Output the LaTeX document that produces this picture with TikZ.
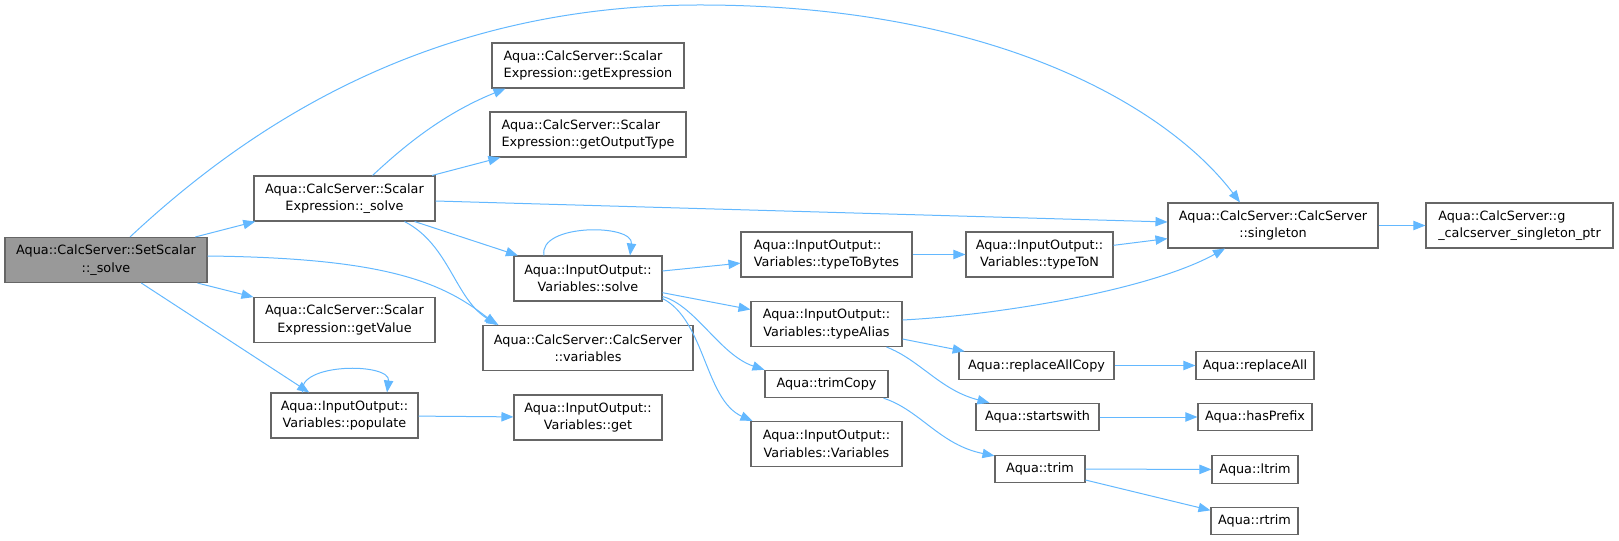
\documentclass[tikz,border=0pt]{standalone}
\usepackage{fontspec}
\setmainfont{DejaVu Sans}
\usetikzlibrary{arrows.meta,calc}
\definecolor{edgeblue}{HTML}{63B8FF}
\definecolor{nodegray}{HTML}{999999}
\definecolor{framegray}{HTML}{666666}

\begin{document}
\begin{tikzpicture}[x=0.75pt,y=-0.75pt,
		fn/.style={draw=framegray,line width=0.8pt,fill=white,inner sep=0pt,align=center,
			font=\fontsize{9.6}{13}\selectfont,minimum height=33.75pt},
		fnl/.style={fn,align=left},
		fn1/.style={fn,minimum height=20.5pt},
		call/.style={draw=edgeblue,line width=0.75pt,-{Triangle[length=9pt,width=7pt]}}]
		\useasboundingbox (0,0) rectangle (1619,541);
		\node[fn,fill=nodegray,minimum width=151.5pt] (ss) at (106,260) {Aqua::CalcServer::SetScalar\\::\_solve};
		\node[fn,minimum width=135.75pt] (sxsolve) at (344.5,198.5) {Aqua::CalcServer::Scalar\\Expression::\_solve};
		\node[fn,minimum width=135.75pt] (getval) at (344.5,320) {Aqua::CalcServer::Scalar\\Expression::getValue};
		\node[fn,minimum width=110.25pt] (populate) at (344.5,415.5) {Aqua::InputOutput::\\Variables::populate};
		\node[fnl,minimum width=144pt] (getexpr) at (588,65.5) {Aqua::CalcServer::Scalar\\Expression::getExpression};
		\node[fnl,minimum width=147pt] (getout) at (588,134.5) {Aqua::CalcServer::Scalar\\Expression::getOutputType};
		\node[fn,minimum width=111pt] (vsolve) at (588,278.5) {Aqua::InputOutput::\\Variables::solve};
		\node[fn,minimum width=157.5pt] (variables) at (588,348) {Aqua::CalcServer::CalcServer\\::variables};
		\node[fn,minimum width=111pt] (vget) at (588,417.5) {Aqua::InputOutput::\\Variables::get};
		\node[fnl,minimum width=128.25pt] (tobytes) at (826.5,254.5) {Aqua::InputOutput::\\Variables::typeToBytes};
		\node[fn,minimum width=113.25pt] (alias) at (826.5,324) {Aqua::InputOutput::\\Variables::typeAlias};
		\node[fn1,minimum width=92.25pt] (trimcopy) at (826.5,384) {Aqua::trimCopy};
		\node[fn,minimum width=113.25pt] (vvars) at (826.5,444) {Aqua::InputOutput::\\Variables::Variables};
		\node[fn,minimum width=110.25pt] (toN) at (1039.5,254.5) {Aqua::InputOutput::\\Variables::typeToN};
		\node[fn1,minimum width=116.25pt] (replcopy) at (1036.5,365.5) {Aqua::replaceAllCopy};
		\node[fn1,minimum width=92.25pt] (starts) at (1037.5,417) {Aqua::startswith};
		\node[fn1,minimum width=67.5pt] (trim) at (1040,469) {Aqua::trim};
		\node[fn,minimum width=157.5pt] (single) at (1273,225.5) {Aqua::CalcServer::CalcServer\\::singleton};
		\node[fnl,minimum width=140.25pt] (gptr) at (1519.5,225.5) {Aqua::CalcServer::g\\\_calcserver\_singleton\_ptr};
		\node[fn1,minimum width=88.5pt] (replall) at (1255,365.5) {Aqua::replaceAll};
		\node[fn1,minimum width=85.5pt] (hasprefix) at (1255,417) {Aqua::hasPrefix};
		\node[fn1,minimum width=64.5pt] (ltrim) at (1255,469.5) {Aqua::ltrim};
		\node[fn1,minimum width=65.25pt] (rtrim) at (1254.5,521) {Aqua::rtrim};
		\foreach \a/\b in {ss/sxsolve,ss/getval,ss/populate,sxsolve/getout,sxsolve/vsolve,populate/vget,
			vsolve/tobytes,vsolve/alias,tobytes/toN,toN/single,alias/replcopy,replcopy/replall,
			starts/hasprefix,trim/ltrim,trim/rtrim,single/gptr}
		{
			\draw[call] (\a) -- (\b);
		}
		\draw[call] ($(ss.north)+(24,0)$) .. controls (250,125) and (430,5) .. (700,5)
			.. controls (1000,5) and (1170,110) .. ($(single.north)+(-33,0)$);
		\draw[call] ($(ss.east)+(0,-4)$) .. controls (380,258) and (440,280) .. ($(variables.north west)+(14,0)$);
		\draw[call] ($(sxsolve.north)+(28,0)$) .. controls (400,150) and (440,115) .. ($(getexpr.south west)+(14,0)$);
		\draw[call] ($(sxsolve.east)+(0,2.5)$) -- ($(single.west)+(0,-3.5)$);
		\draw[call] ($(sxsolve.south)+(60,0)$) .. controls (450,245) and (455,300) .. ($(variables.north west)+(16,0)$);
		\draw[call] ($(populate.north)+(-42,0)$) .. controls +(-6,-30) and +(4,-30) .. ($(populate.north)+(42.5,0)$);
		\draw[call] ($(vsolve.north)+(-44,0)$) .. controls +(-6,-32) and +(4,-32) .. ($(vsolve.north)+(42,0)$);
		\draw[call] ($(vsolve.south east)+(0,-5)$) .. controls (695,305) and (720,355) .. (trimcopy.north west);
		\draw[call] ($(vsolve.south east)+(0,-3)$) .. controls (705,320) and (705,400) .. ($(vvars.north west)+(2,0)$);
		\draw[call] ($(alias.east)+(0,-4)$) .. controls (1000,315) and (1150,290) .. ($(single.south)+(-48,0)$);
		\draw[call] ($(alias.south)+(60,0)$) .. controls (920,360) and (940,390) .. ($(starts.north west)+(14,0)$);
		\draw[call] ($(trimcopy.south east)+(-5,0)$) .. controls (920,410) and (940,445) .. ($(trim.north west)+(0,1)$);
\end{tikzpicture}
\end{document}
